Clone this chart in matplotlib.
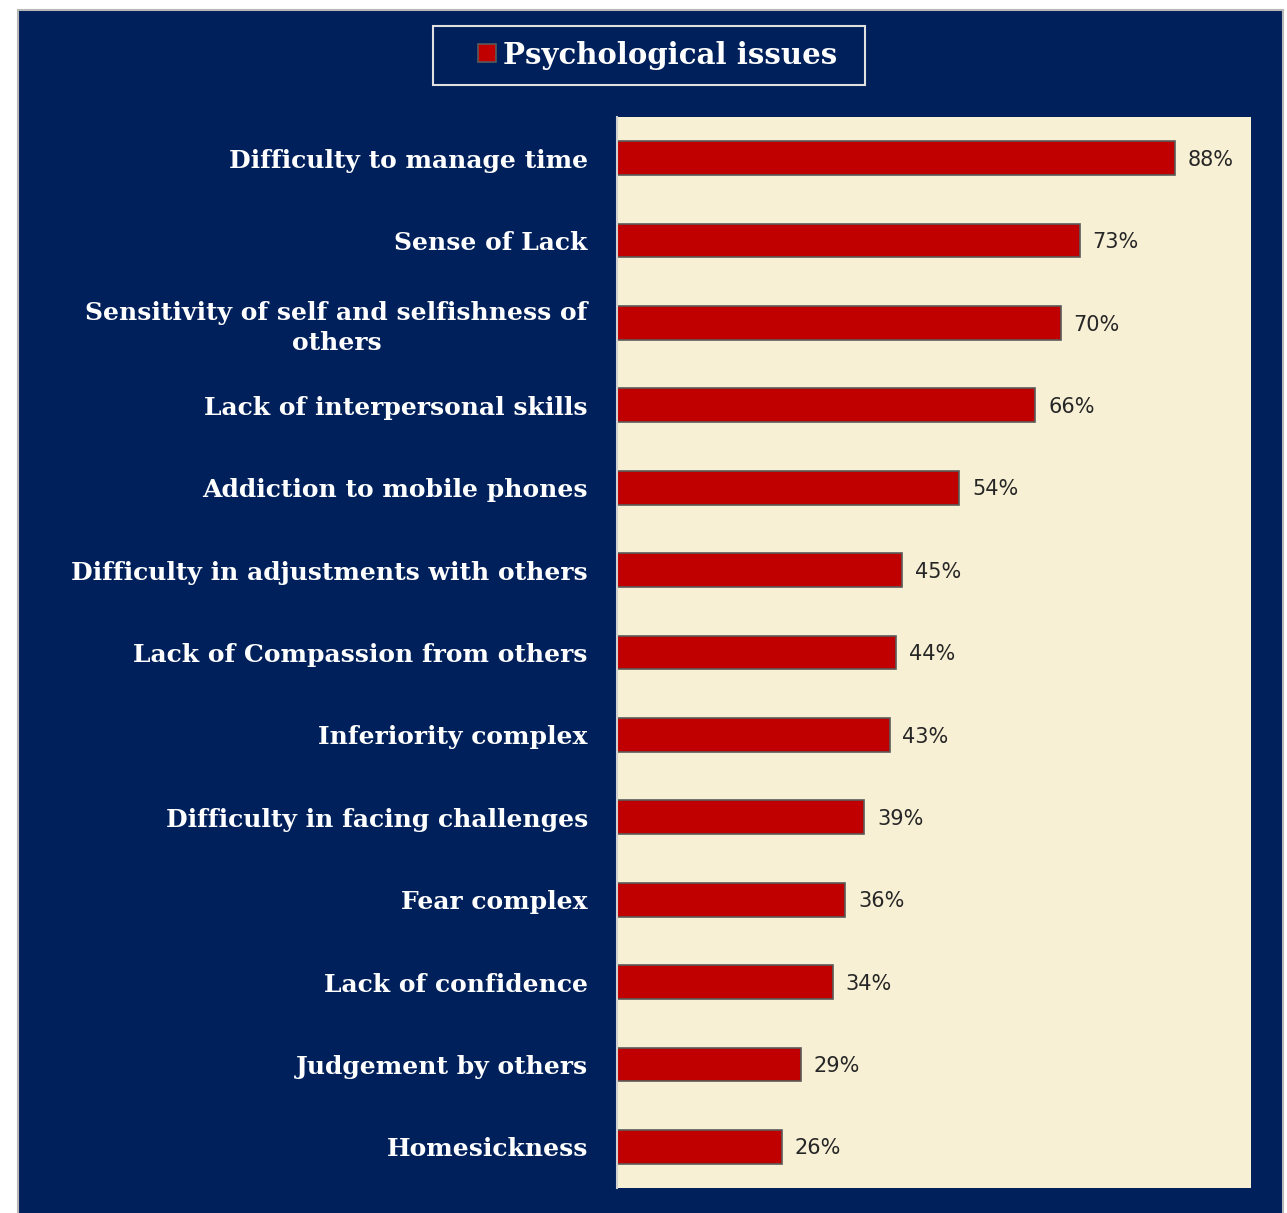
import matplotlib.pyplot as plt
from matplotlib.patches import Rectangle

categories = [
    "Difficulty to manage time",
    "Sense of Lack",
    "Sensitivity of self and selfishness of\nothers",
    "Lack of interpersonal skills",
    "Addiction to mobile phones",
    "Difficulty in adjustments with others",
    "Lack of Compassion from others",
    "Inferiority complex",
    "Difficulty in facing challenges",
    "Fear complex",
    "Lack of confidence",
    "Judgement by others",
    "Homesickness",
]
values = [88, 73, 70, 66, 54, 45, 44, 43, 39, 36, 34, 29, 26]
series_name = "Psychological issues"

navy = "#00205B"
cream = "#F8F0D4"
bar_red = "#C00000"

W, H = 1287, 1213
fig = plt.figure(figsize=(W / 100, H / 100), dpi=100)
fig.patch.set_facecolor("white")

# dark panel behind everything
panel = Rectangle((18 / W, -0.01), (1283 - 18) / W, 1 - 10 / H + 0.01,
                  transform=fig.transFigure, facecolor=navy,
                  edgecolor="#B8B8B8", linewidth=1.5, zorder=-10)
fig.patches.append(panel)

ax = fig.add_axes([617 / W, 1 - 1188 / H, (1251 - 617) / W, (1188 - 117) / H])
ax.set_zorder(1)
ax.set_facecolor(cream)

y = list(range(len(categories)))
bars = ax.barh(y, values, height=0.41, color=bar_red, edgecolor="#5A5A5A",
               linewidth=1.2, label=series_name)
ax.set_xlim(0, 100)
ax.set_ylim(len(categories) - 0.5, -0.5)

for yi, v in zip(y, values):
    ax.text(v + 2, yi + 0.02, f"{v}%", va="center", ha="left", fontsize=15,
            color="#262626", family="DejaVu Sans")

ax.set_yticks(y)
ax.set_yticklabels(categories, fontsize=18, fontweight="bold", color="white",
                   family="DejaVu Serif", multialignment="center",
                   linespacing=1.3)
ax.tick_params(axis="y", length=0, pad=21)
ax.set_xticks([])
for side in ["top", "bottom", "right"]:
    ax.spines[side].set_visible(False)
ax.spines["left"].set_color("#D0D0D0")
ax.spines["left"].set_linewidth(1.5)

# legend box at the top
frame = Rectangle((433 / W, 1 - 85 / H), (865 - 433) / W, 59 / H,
                  transform=fig.transFigure, facecolor=navy,
                  edgecolor="#E0E0E0", linewidth=1.5, zorder=-5)
fig.patches.append(frame)
leg = fig.legend(handles=[bars], labels=[series_name],
                 loc="center left", bbox_to_anchor=(478 / W, 1 - 55 / H),
                 frameon=False, handlelength=0.6, handleheight=0.6,
                 handletextpad=0.25, borderpad=0, borderaxespad=0,
                 prop={"family": "DejaVu Serif", "weight": "bold", "size": 21})
for t in leg.get_texts():
    t.set_color("white")

plt.savefig("out.png", dpi=100, facecolor=fig.get_facecolor())
